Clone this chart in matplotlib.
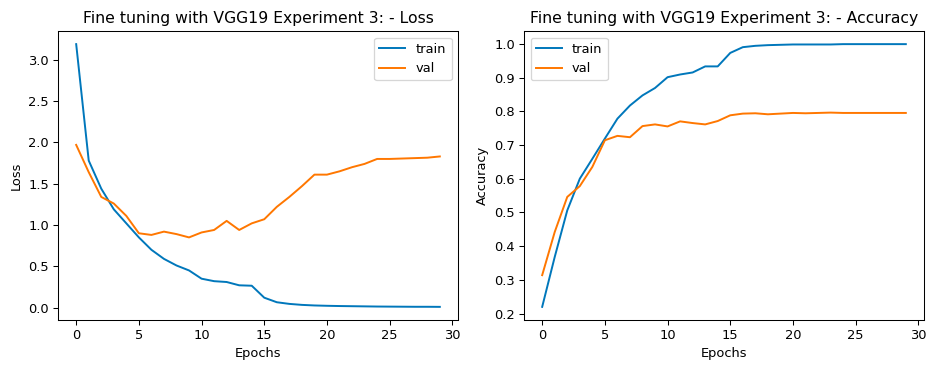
import matplotlib
matplotlib.use("Agg")
import matplotlib.pyplot as plt

epochs = list(range(30))
train_loss = [3.19, 1.78, 1.44, 1.19, 1.02, 0.85, 0.70, 0.59, 0.51, 0.45,
              0.35, 0.32, 0.31, 0.27, 0.265, 0.12, 0.065, 0.045, 0.033, 0.026,
              0.022, 0.019, 0.017, 0.015, 0.013, 0.012, 0.011, 0.010, 0.010, 0.009]
val_loss = [1.97, 1.64, 1.34, 1.26, 1.11, 0.90, 0.88, 0.92, 0.89, 0.85,
            0.91, 0.94, 1.05, 0.94, 1.02, 1.07, 1.22, 1.34, 1.47, 1.61,
            1.61, 1.65, 1.70, 1.74, 1.80, 1.80, 1.805, 1.81, 1.815, 1.83]
train_acc = [0.220, 0.368, 0.506, 0.600, 0.659, 0.719, 0.778, 0.817, 0.847, 0.869,
             0.901, 0.909, 0.915, 0.933, 0.933, 0.973, 0.990, 0.994, 0.996, 0.997,
             0.998, 0.998, 0.998, 0.998, 0.999, 0.999, 0.999, 0.999, 0.999, 0.999]
val_acc = [0.314, 0.442, 0.546, 0.578, 0.635, 0.714, 0.727, 0.723, 0.756, 0.761,
           0.755, 0.770, 0.765, 0.761, 0.771, 0.788, 0.793, 0.794, 0.791, 0.793,
           0.795, 0.794, 0.795, 0.796, 0.795, 0.795, 0.795, 0.795, 0.795, 0.795]

DPI = 93.6
fig, (ax1, ax2) = plt.subplots(1, 2, figsize=(936 / DPI, 370 / DPI), dpi=DPI)

ax1.plot(epochs, train_loss, color="#0077bb", label="train")
ax1.plot(epochs, val_loss, color="#ff7700", label="val")
ax1.set_title("Fine tuning with VGG19 Experiment 3: - Loss")
ax1.set_xlabel("Epochs")
ax1.set_ylabel("Loss")
ax1.legend(loc="upper right")

ax2.plot(epochs, train_acc, color="#0077bb", label="train")
ax2.plot(epochs, val_acc, color="#ff7700", label="val")
ax2.set_title("Fine tuning with VGG19 Experiment 3: - Accuracy")
ax2.set_xlabel("Epochs")
ax2.set_ylabel("Accuracy")
ax2.legend(loc="upper left")

ax1.set_position([58 / 936, 1 - 320 / 370, 400 / 936, 289 / 370])
ax2.set_position([524 / 936, 1 - 320 / 370, 400 / 936, 289 / 370])

fig.savefig("out.png", dpi=DPI)
